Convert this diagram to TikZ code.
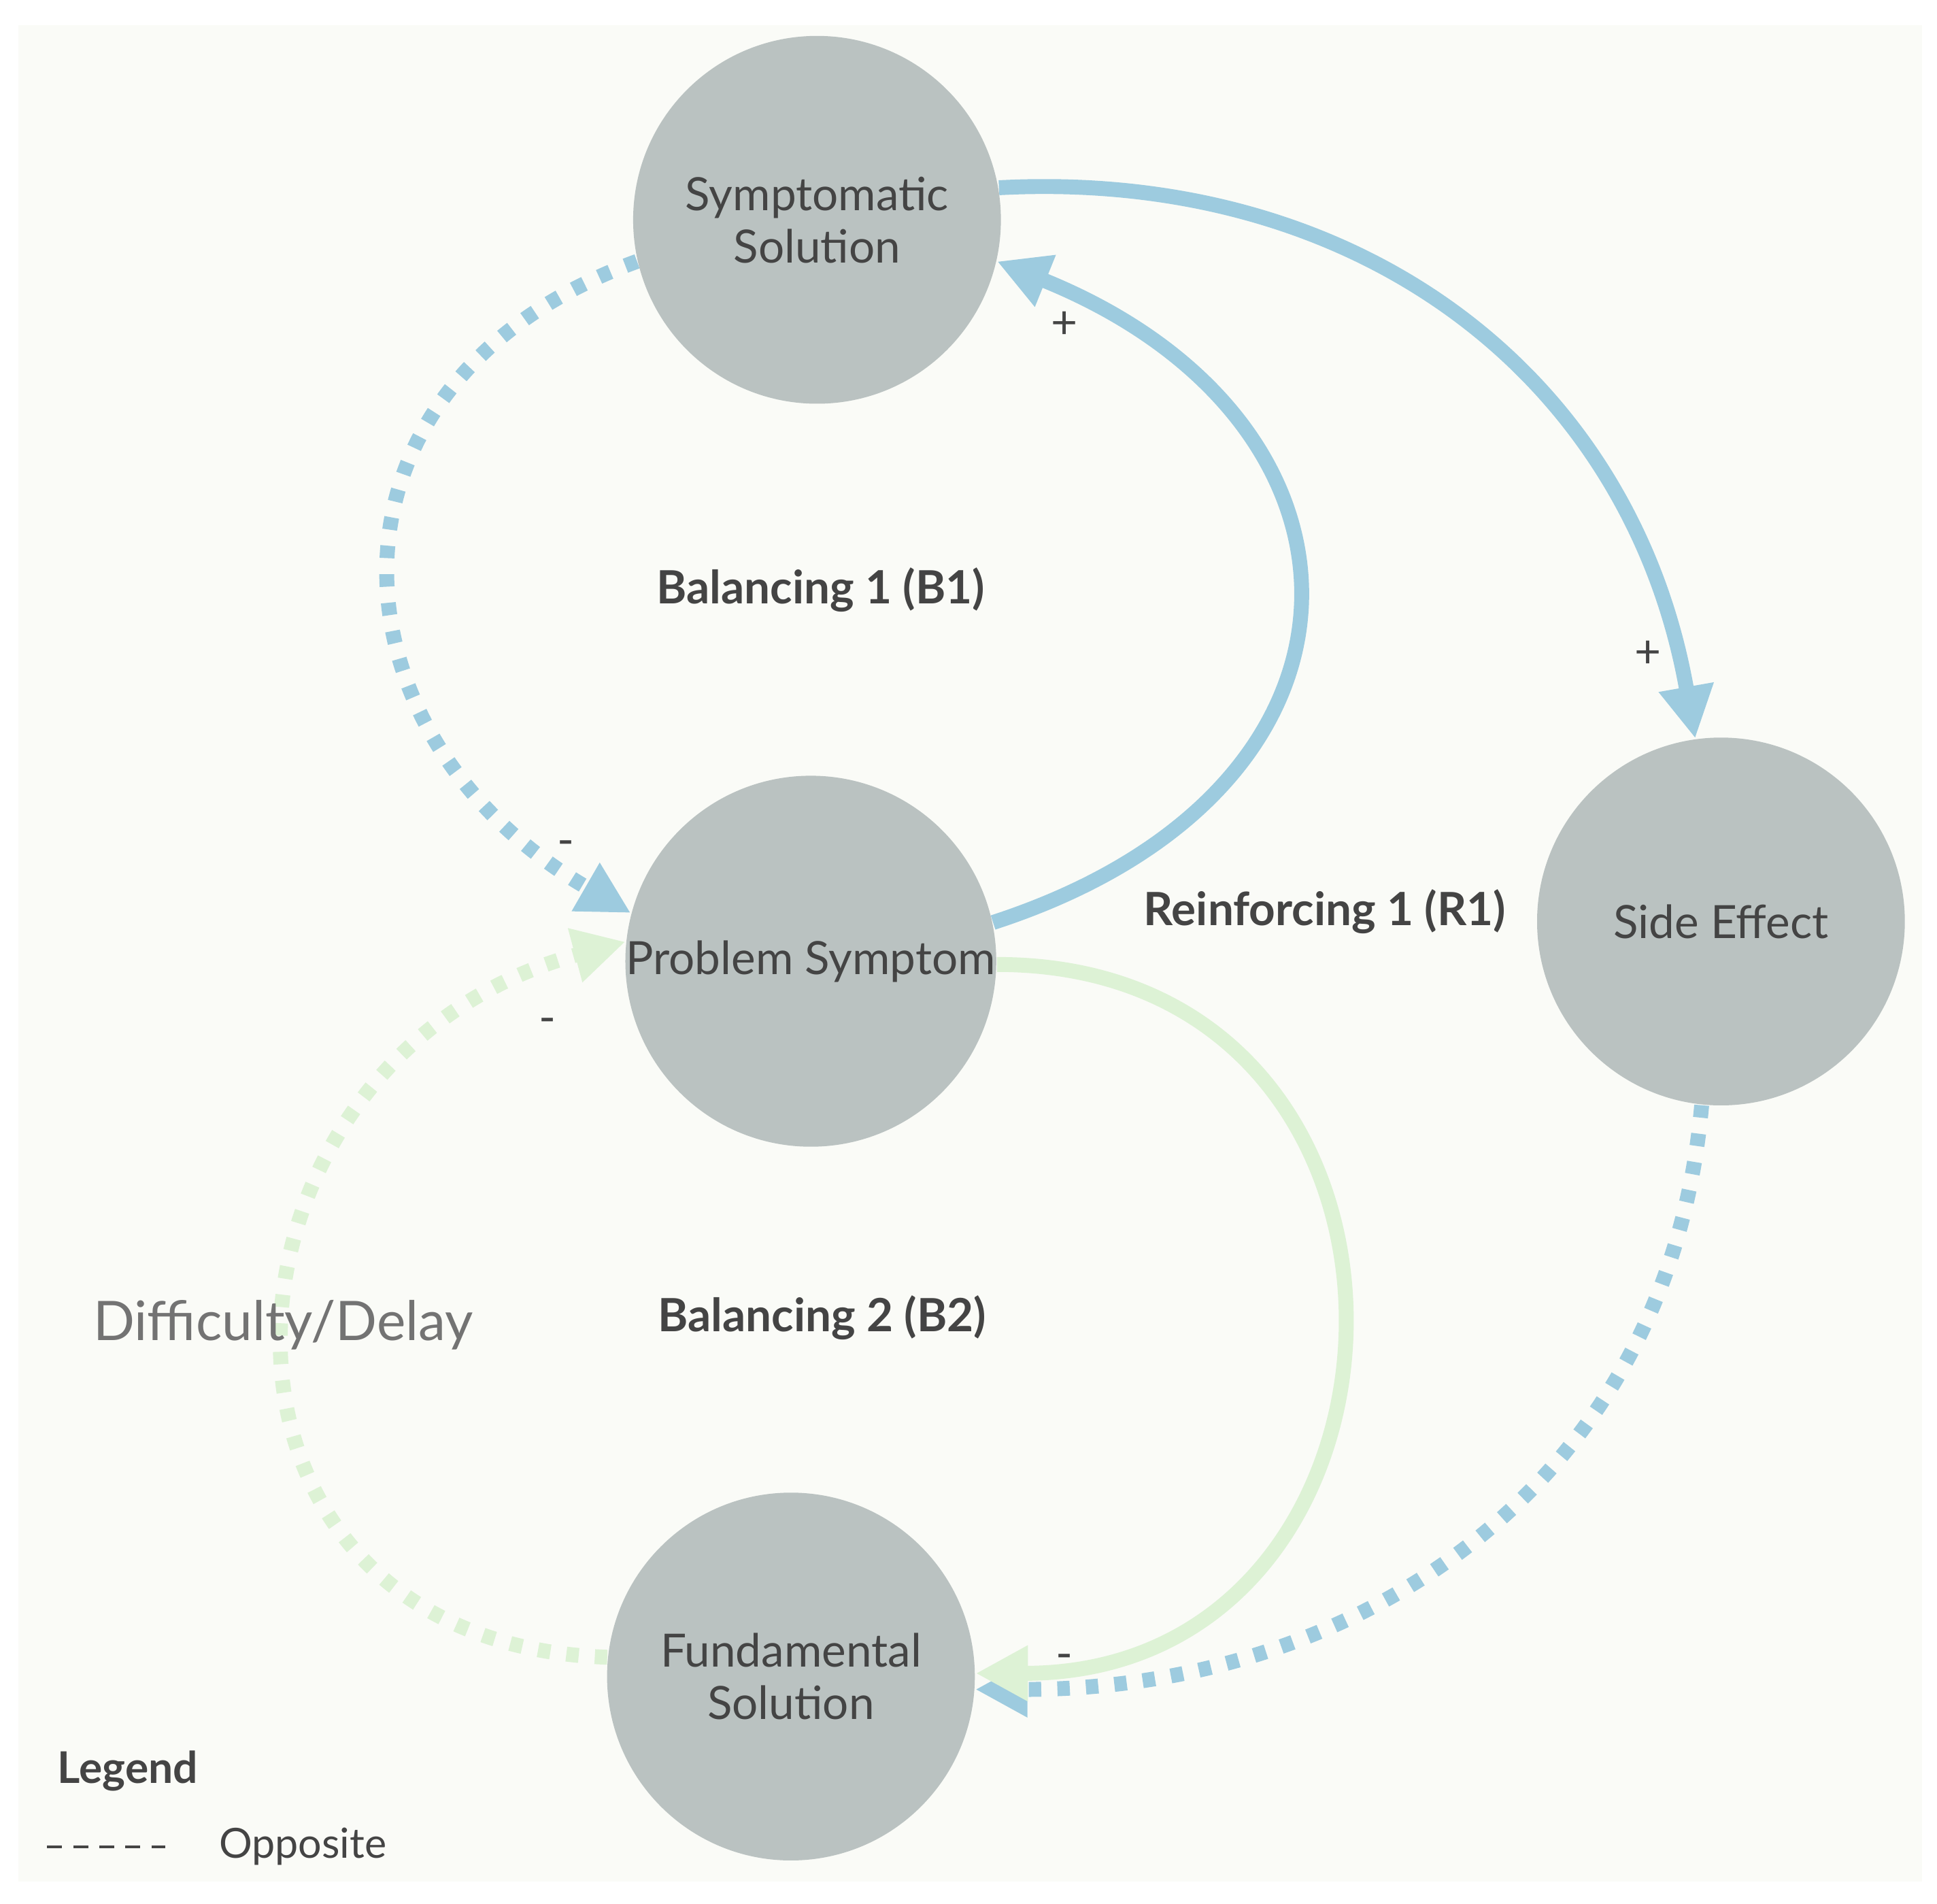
\documentclass[tikz,border=0pt]{standalone}
\usepackage{fontspec}
\setmainfont{Lato}
\usetikzlibrary{arrows.meta}
\definecolor{bgpaper}{HTML}{FAFBF7}
\definecolor{nodegray}{HTML}{BAC2C1}
\definecolor{loopblue}{HTML}{9DCBDF}
\definecolor{loopgreen}{HTML}{DDF2D5}
\definecolor{textgray}{HTML}{444444}
\tikzset{
  var/.style={circle, fill=nodegray, minimum size=2.96cm, inner sep=0pt,
    align=center, text=textgray, font=\fontsize{10.5}{12}\selectfont},
  link/.style={line width=0.12cm, -{Triangle[length=0.42cm,width=0.42cm]}},
  opposite/.style={link, dash pattern=on 0.1cm off 0.13cm},
  loopname/.style={font=\bfseries\fontsize{10.5}{12}\selectfont, text=textgray},
  sign/.style={font=\fontsize{10.5}{12}\selectfont, text=textgray}
}
\begin{document}
\begin{tikzpicture}[x=0.01cm,y=-0.01cm]
\useasboundingbox (0,0) rectangle (1560,1533);
\fill[bgpaper] (15,20) rectangle (1548,1515);
% variables
\node[var] (sym)  at (658,177)  {Symptomatic\\Solution};
\node[var] (prob) at (653,774)  {Problem Symptom};
\node[var] (side) at (1386,742) {Side Effect};
\node[var] (fund) at (637,1350) {Fundamental\\Solution};
% links
\draw[link, loopblue] (sym.10) to[out=3, in=100, looseness=1.05] (side.98);
\draw[link, loopblue] (prob.12) to[out=18, in=-22, looseness=1.65] (sym.-13);
\draw[opposite, loopblue] (sym.193) to[out=200, in=150, looseness=1.4] (prob.165);
\draw[opposite, loopblue] (side.264) to[out=265, in=0, looseness=1.05] (fund.-4);
\draw[link, loopgreen] (prob.-1) to[out=0, in=0, looseness=1.7] (fund.1);
\draw[opposite, loopgreen] (fund.174) to[out=178, in=195, looseness=1.6] (prob.174);
% signs
\node[sign] (s1) at (857,262)  {+};
\node[sign] (s2) at (1327,527) {+};
\node[sign] (s3) at (456,683)  {-};
\node[sign] (s4) at (441,826)  {-};
\node[sign] (s5) at (857,1338) {-};
% loop names
\node[loopname] (b1) at (661,475)  {Balancing 1 (B1)};
\node[loopname] (r1) at (1067,734) {Reinforcing 1 (R1)};
\node[loopname] (b2) at (662,1061) {Balancing 2 (B2)};
\node[text=gray!90!black, font=\fontsize{12.5}{14}\selectfont] (delay) at (228,1067) {Difficulty/Delay};
% legend
\node[font=\bfseries\fontsize{10}{12}\selectfont, text=textgray, anchor=west] (legend) at (34,1426) {Legend};
\coordinate (la) at (38,1487);
\coordinate (lb) at (133,1487);
\draw[textgray, line width=0.7pt, dash pattern=on 0.12cm off 0.09cm] (la) -- (lb);
\node[font=\fontsize{9.5}{11}\selectfont, text=textgray, anchor=west] (opp) at (164,1487) {Opposite};
\end{tikzpicture}
\end{document}
